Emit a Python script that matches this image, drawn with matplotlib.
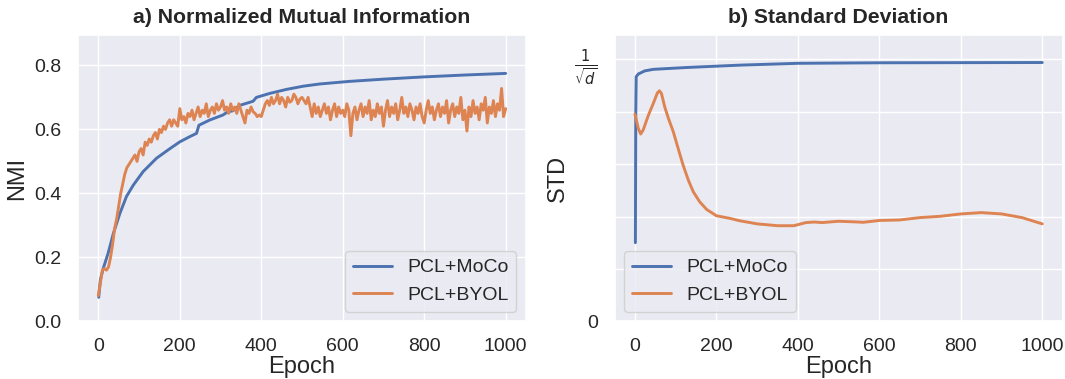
import matplotlib
matplotlib.use("Agg")
import matplotlib.pyplot as plt
import seaborn as sns
import numpy as np

sns.set_theme(style="darkgrid")
plt.rcParams['font.family'] = ['Liberation Sans', 'DejaVu Sans']

# ---- data: panel a (NMI) ----
nmi_moco_epochs = [1, 5, 12, 24, 37, 53, 69, 86, 110, 143, 176, 200, 224, 241, 244, 247,
                   273, 306, 318, 330, 347, 370, 380, 388, 421, 462, 503, 544, 616, 700,
                   798, 900, 1000]
nmi_moco = [0.075, 0.13, 0.165, 0.2125, 0.275, 0.3375, 0.39, 0.426, 0.468, 0.51, 0.54,
            0.561, 0.577, 0.5875, 0.60, 0.613, 0.629, 0.645, 0.655, 0.658, 0.675, 0.684,
            0.688, 0.70, 0.7125, 0.725, 0.735, 0.742, 0.750, 0.757, 0.764, 0.770, 0.775]

nmi_byol_epochs = list(range(0, 1001, 5))
nmi_byol = [
    0.08, 0.12, 0.16, 0.165, 0.16, 0.17, 0.20, 0.24, 0.29, 0.32, 0.36, 0.40, 0.43, 0.46, 0.48,
    0.49, 0.50, 0.51, 0.52, 0.50, 0.53,
    0.54, 0.52, 0.56, 0.55, 0.57, 0.56, 0.58, 0.59, 0.57, 0.60, 0.59, 0.61, 0.60, 0.62, 0.63,
    0.61, 0.63, 0.62, 0.61, 0.665,
    0.63, 0.64, 0.62, 0.65, 0.64, 0.66, 0.63, 0.65, 0.67, 0.64, 0.66, 0.65, 0.68, 0.64, 0.66,
    0.67, 0.65, 0.68, 0.66, 0.67,
    0.69, 0.66, 0.67, 0.65, 0.68, 0.66, 0.67, 0.65, 0.68, 0.66, 0.64, 0.62, 0.66, 0.65, 0.67,
    0.655, 0.65, 0.64, 0.645, 0.64,
    0.66, 0.68, 0.69, 0.675, 0.70, 0.68, 0.69, 0.71, 0.68, 0.70, 0.69, 0.67, 0.70, 0.685, 0.69,
    0.71, 0.70, 0.68, 0.695, 0.70,
    0.69, 0.68, 0.70, 0.67, 0.64, 0.68, 0.65, 0.67, 0.64, 0.66, 0.68, 0.65, 0.67, 0.63, 0.66,
    0.68, 0.64, 0.67, 0.65, 0.66,
    0.64, 0.68, 0.66, 0.58, 0.65, 0.67, 0.63, 0.66, 0.68, 0.64, 0.67, 0.65, 0.69, 0.63, 0.66,
    0.64, 0.68, 0.65, 0.67, 0.61,
    0.66, 0.69, 0.64, 0.67, 0.65, 0.68, 0.63, 0.66, 0.70, 0.65, 0.67, 0.64, 0.68, 0.66, 0.63,
    0.67, 0.65, 0.68, 0.64, 0.62,
    0.66, 0.69, 0.65, 0.67, 0.63, 0.66, 0.68, 0.64, 0.67, 0.65, 0.69, 0.62, 0.66, 0.68, 0.64,
    0.67, 0.65, 0.70, 0.63, 0.66,
    0.595, 0.67, 0.64, 0.69, 0.65, 0.67, 0.63, 0.68, 0.66, 0.70, 0.62, 0.67, 0.65, 0.69, 0.64,
    0.68, 0.66, 0.728, 0.64, 0.665,
]

# ---- data: panel b (STD, in units of 1/sqrt(d)) ----
std_moco_epochs = [1, 2, 3, 8, 24, 45, 127, 257, 400, 600, 1000]
std_moco = [0.30, 0.80, 0.934, 0.944, 0.956, 0.962, 0.969, 0.978, 0.985, 0.987, 0.988]

std_byol_epochs = [0, 8, 14, 20, 33, 45, 55, 60, 65, 73, 82, 94, 106, 118, 131, 143, 159, 176,
                   200, 233, 257, 300, 350, 390, 400, 420, 440, 460, 500, 550, 560, 600, 650,
                   700, 750, 800, 850, 900, 950, 1000]
std_byol = [0.791, 0.737, 0.715, 0.73, 0.787, 0.832, 0.872, 0.88, 0.87, 0.819, 0.775, 0.724,
            0.66, 0.597, 0.539, 0.495, 0.456, 0.427, 0.403, 0.393, 0.384, 0.372, 0.365, 0.365,
            0.369, 0.377, 0.379, 0.377, 0.382, 0.379, 0.378, 0.385, 0.387, 0.396, 0.401, 0.41,
            0.415, 0.41, 0.396, 0.372]

labels = ["PCL+MoCo", "PCL+BYOL"]
colors = ["#4c72b0", "#dd8452"]
x_ticks = [0, 200, 400, 600, 800, 1000]

fig = plt.figure(figsize=(10.65, 3.79), dpi=100)
ax1 = fig.add_axes([0.0732, 0.1522, 0.4207, 0.7554])
ax2 = fig.add_axes([0.5771, 0.1522, 0.4207, 0.7554])

ax1.plot(nmi_moco_epochs, nmi_moco, color=colors[0], lw=2.1, label=labels[0])
ax1.plot(nmi_byol_epochs, nmi_byol, color=colors[1], lw=2.1, label=labels[1])
ax1.set_ylim(0, 0.895)
ax1.set_yticks([0.0, 0.2, 0.4, 0.6, 0.8])
ax1.set_xticks(x_ticks)
ax1.set_title("a) Normalized Mutual Information", fontsize=15.3, fontweight="bold", pad=9)
ax1.set_xlabel("Epoch", fontsize=17, labelpad=0.5)
ax1.set_ylabel("NMI", fontsize=17, labelpad=4)
ax1.tick_params(labelsize=14)
ax1.tick_params(axis='x', pad=6)
ax1.tick_params(axis='y', pad=6)
ax1.legend(loc="lower right", fontsize=14)

ax2.plot(std_moco_epochs, std_moco, color=colors[0], lw=2.1, label=labels[0])
ax2.plot(std_byol_epochs, std_byol, color=colors[1], lw=2.1, label=labels[1])
ax2.set_ylim(0, 1.093)
ax2.set_yticks([0, 0.2, 0.4, 0.6, 0.8, 1.0])
ax2.set_yticklabels(["0", "", "", "", "", r"$\frac{1}{\sqrt{d}}$"])
ax2.set_xticks(x_ticks)
ax2.set_title("b) Standard Deviation", fontsize=15.3, fontweight="bold", pad=9)
ax2.set_xlabel("Epoch", fontsize=17, labelpad=0.5)
ax2.set_ylabel("STD", fontsize=17, labelpad=4)
ax2.tick_params(labelsize=14)
ax2.tick_params(axis='x', pad=6)
ax2.tick_params(axis='y', pad=6)
ax2.get_yticklabels()[-1].set_fontsize(15)
ax2.legend(loc="lower left", fontsize=14)

fig.savefig("out.png", dpi=100)
